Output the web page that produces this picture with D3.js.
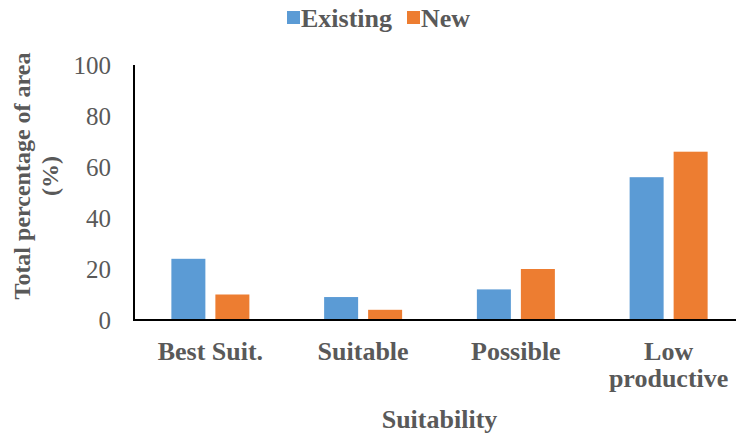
<!DOCTYPE html>
<html lang="en">
<head>
  <meta charset="UTF-8">
  <title>Suitability chart</title>
  <script src="https://cdn.jsdelivr.net/npm/d3@7"></script>
  <style>
    body { margin: 0; background: #fff; }
    text { font-family: "Liberation Serif", "Times New Roman", serif; fill: #595959; }
    .bold { font-weight: bold; }
  </style>
</head>
<body>
<svg id="chart" width="736" height="433"></svg>
<script>
  // data
  var categories = [["Best Suit."], ["Suitable"], ["Possible"], ["Low", "productive"]];
  var seriesNames = ["Existing", "New"];
  var existing = [24, 9, 12, 56];
  var newer = [10, 4, 20, 66];
  var yTicks = [0, 20, 40, 60, 80, 100];
  var colors = ["#5B9BD5", "#ED7D31"];

  (function() {
    var svg = d3.select("#chart");
    var plotL = 134, plotR = 745, plotT = 65, plotB = 320;

    var keys = categories.map(function(c) { return c.join(" "); });
    var x0 = d3.scaleBand().domain(keys).range([plotL, plotR]);
    var groupW = 78;
    var x1 = d3.scaleBand().domain(seriesNames).range([0, groupW]).paddingInner(0.2273);
    var y = d3.scaleLinear().domain([0, 100]).range([plotB, plotT]);

    var rows = keys.map(function(k, i) {
      return { key: k, values: [existing[i], newer[i]] };
    });

    var g = svg.selectAll("g.grp").data(rows).enter().append("g")
        .attr("class", "grp")
        .attr("transform", function(d) {
          return "translate(" + (x0(d.key) + (x0.bandwidth() - groupW) / 2) + ",0)";
        });
    g.selectAll("rect").data(function(d) {
        return d.values.map(function(v, i) { return { s: seriesNames[i], v: v, i: i }; });
      })
      .enter().append("rect")
        .attr("x", function(d) { return x1(d.s); })
        .attr("width", x1.bandwidth())
        .attr("y", function(d) { return y(d.v); })
        .attr("height", function(d) { return plotB - y(d.v); })
        .attr("fill", function(d) { return colors[d.i]; });

    // axis lines, no ticks
    svg.append("line").attr("x1", plotL).attr("x2", plotL).attr("y1", plotT).attr("y2", plotB + 1)
        .attr("stroke", "#000").attr("stroke-width", 2);
    svg.append("line").attr("x1", plotL - 1).attr("x2", plotR).attr("y1", plotB).attr("y2", plotB)
        .attr("stroke", "#000").attr("stroke-width", 2);

    // y tick labels
    svg.selectAll("text.ytick").data(yTicks).enter().append("text")
        .attr("class", "ytick")
        .attr("x", 111)
        .attr("y", function(d) { return y(d); })
        .attr("dy", "0.34em")
        .attr("text-anchor", "end")
        .style("font-size", "25px")
        .text(function(d) { return d; });

    // category labels
    var cat = svg.selectAll("text.cat").data(categories).enter().append("text")
        .attr("class", "cat bold")
        .attr("text-anchor", "middle")
        .attr("y", 360)
        .style("font-size", "26px");
    cat.selectAll("tspan").data(function(d, i) {
        return d.map(function(t) { return { t: t, k: keys[i] }; });
      })
      .enter().append("tspan")
        .attr("x", function(d) { return x0(d.k) + x0.bandwidth() / 2; })
        .attr("dy", function(d, i) { return i ? 27 : 0; })
        .text(function(d) { return d.t; });

    // axis titles
    svg.append("text").attr("class", "bold")
        .attr("x", (plotL + plotR) / 2).attr("y", 428)
        .attr("text-anchor", "middle")
        .style("font-size", "26px")
        .text("Suitability");

    var yt = svg.append("text").attr("class", "bold")
        .attr("transform", "translate(0,176) rotate(-90)")
        .attr("text-anchor", "middle")
        .style("font-size", "24px");
    yt.append("tspan").attr("x", 0).attr("y", 30).text("Total percentage of area");
    yt.append("tspan").attr("x", 0).attr("y", 58).text("(%)");

    // legend
    var legX = [287, 407];
    var leg = svg.selectAll("g.leg").data(seriesNames).enter().append("g")
        .attr("class", "leg")
        .attr("transform", function(d, i) { return "translate(" + legX[i] + ",0)"; });
    leg.append("rect").attr("x", 0).attr("y", 11).attr("width", 13).attr("height", 13)
        .attr("fill", function(d, i) { return colors[i]; });
    leg.append("text").attr("class", "bold")
        .attr("x", 14).attr("y", 27)
        .style("font-size", "26px")
        .text(function(d) { return d; });
  })();
</script>
</body>
</html>
